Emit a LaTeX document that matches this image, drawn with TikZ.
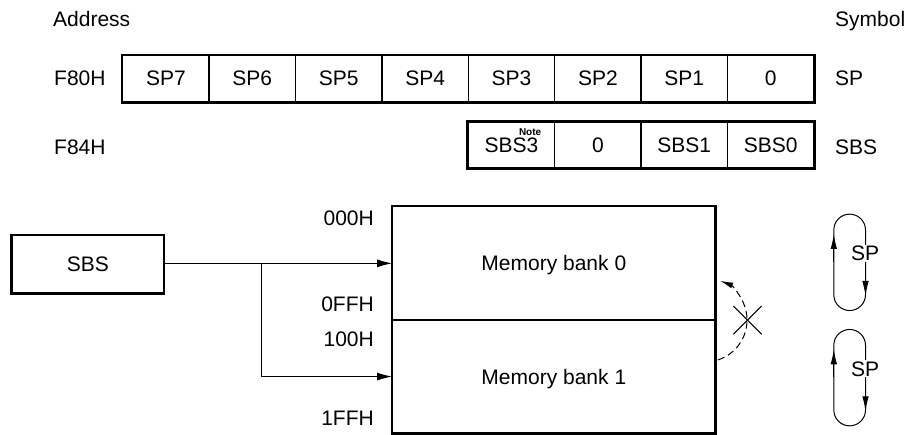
\documentclass[tikz,border=0pt]{standalone}
\usepackage{fontspec}
\setmainfont{Liberation Sans}
\usetikzlibrary{arrows.meta,calc}
\begin{document}
\begin{tikzpicture}[x=1pt,y=-1pt,
  font=\fontsize{21}{25}\selectfont,
  cell/.style={draw, line width=1.5pt, minimum width=86.4pt, minimum height=45.7pt, inner sep=0pt, text depth=0pt},
  lab/.style={anchor=base west, inner sep=0pt},
  addr/.style={anchor=east, inner sep=0pt, text depth=0pt},
  membox/.style={draw, line width=1.3pt, minimum width=322.3pt, minimum height=113.2pt, inner sep=0pt, text depth=0pt},
  thick border/.style={line width=2.8pt},
  thin/.style={line width=1pt},
  arr/.style={thin, -{Latex[length=15pt,width=8pt]}},
  looparr/.style={thin, -{Latex[length=15pt,width=6.5pt]}},
  splab/.style={fill=white, inner sep=1pt, text depth=0pt}
]
\useasboundingbox (0,0) rectangle (910,435);

% headers
\node[lab] (address) at (53,26.7) {Address};
\node[lab] (symbol) at (835,26.7) {Symbol};

% SP register
\node[lab] (f80) at (54,85.5) {F80H};
\foreach \t [count=\i from 0] in {SP7,SP6,SP5,SP4,SP3,SP2,SP1,0}
  \node[cell] (sp\i) at (165.9+86.4*\i,78.6) {\t};
\draw[thick border] (sp0.north west) rectangle (sp7.south east);
\node[lab] (splabel) at (835,85.5) {SP};

% SBS register
\node[lab] (f84) at (54,154.5) {F84H};
\node[cell] (sbs3) at (511.5,145.1) {SBS3};
\node[cell] (sbsz) at (597.9,145.1) {0};
\node[cell] (sbs1) at (684.3,145.1) {SBS1};
\node[cell] (sbs0) at (770.7,145.1) {SBS0};
\draw[thick border] (sbs3.north west) rectangle (sbs0.south east);
\node[lab, font=\fontsize{10}{11}\selectfont\bfseries] (note) at (518.8,135.2) {Note};
\node[lab] (sbslabel) at (835,154.5) {SBS};

% SBS box
\node[draw, thick border, minimum width=152.3pt, minimum height=58.3pt, inner sep=0pt, text depth=0pt] (sbs) at (87.85,264.2) {SBS};

% memory
\node[membox] (mem0) at (553.85,263.35) {Memory bank 0};
\node[membox] (mem1) at (553.85,376.55) {Memory bank 1};
\draw[thick border] (mem0.north west) rectangle (mem1.south east);

\node[addr] (a000) at (374,217.7) {000H};
\node[addr] (a0ff) at (374,304.3) {0FFH};
\node[addr] (a100) at (374,339) {100H};
\node[addr] (a1ff) at (374,418.3) {1FFH};

% connectors
\coordinate (br) at (261,263.35);
\draw[arr] (sbs.east |- mem0.west) -- (mem0.west);
\draw[arr] (br) |- (mem1.west);

% dashed return arc with cross
\coordinate (ac) at (705,320);
\draw[thin, dashed, dash pattern=on 7pt off 4pt, -{Latex[length=13pt,width=6pt]}]
  ($(ac)+(72:42)$) arc[start angle=72, end angle=-69, radius=42];
\draw[thin] (733.3,306) -- (761.7,334.3);
\draw[thin] (733.3,334.3) -- (761.7,306);

% SP loops
\foreach \top/\nm in {230/spa,345.3/spb}{
  \draw[thin] (833.8,\top+64.7) -- (833.8,\top) arc[start angle=180, end angle=360, radius=15.85]
     -- (865.5,\top+64.7) arc[start angle=0, end angle=180, radius=15.85] -- cycle;
  \draw[looparr] (833.8,\top+32) -- (833.8,\top+4);
  \draw[looparr] (865.5,\top+45) -- (865.5,\top+66);
  \node[splab] (\nm) at (865,\top+23.4) {SP};
}
\end{tikzpicture}
\end{document}
